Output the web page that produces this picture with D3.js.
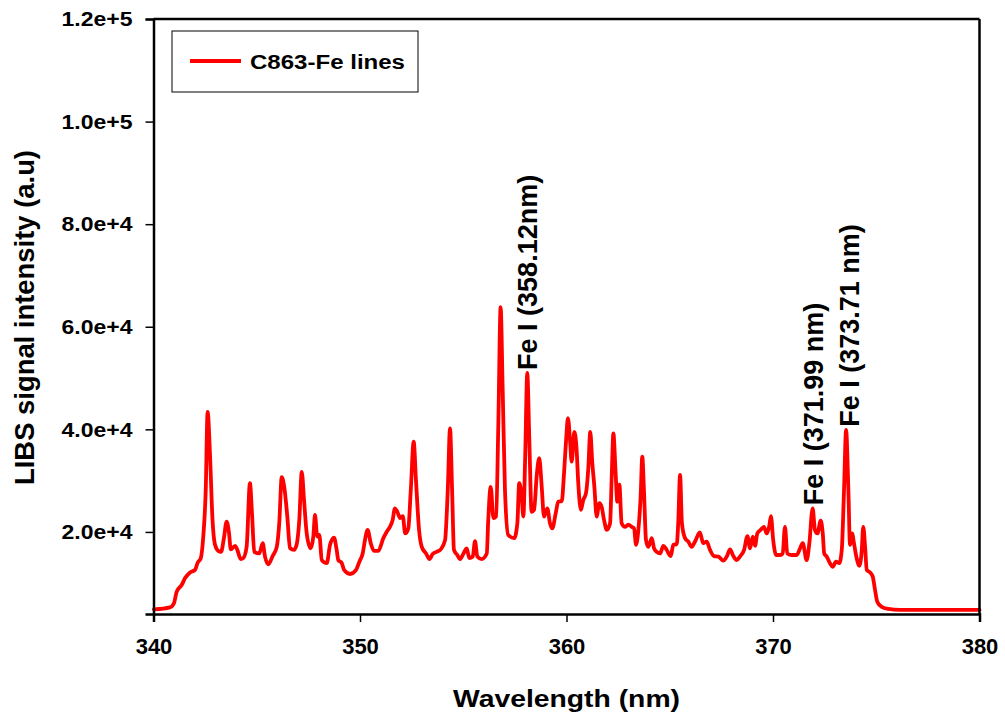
<!DOCTYPE html>
<html>
<head>
<meta charset="utf-8">
<script src="https://cdn.jsdelivr.net/npm/d3@7"></script>
<style>
  body { margin: 0; background: #fff; }
  text { font-family: Arial, "Liberation Sans", Helvetica, sans-serif; font-weight: bold; fill: #000; }
</style>
</head>
<body>
<div id="chart"></div>
<script>
// wavelength (nm)
const wavelength = [340.02,340.80,340.99,341.12,341.37,341.53,341.77,342.01,342.14,342.29,
  342.41,342.53,342.62,342.74,342.85,342.98,343.14,343.27,343.41,343.54,
  343.66,343.74,343.95,344.06,344.22,344.35,344.51,344.67,344.77,344.88,
  345.12,345.29,345.40,345.56,345.77,345.97,346.09,346.21,346.33,346.48,
  346.61,346.80,346.93,347.06,347.18,347.29,347.42,347.61,347.74,347.82,
  347.93,348.03,348.15,348.39,348.55,348.74,348.87,348.95,349.11,349.23,
  349.52,349.81,349.97,350.13,350.24,350.37,350.52,350.68,350.89,351.13,
  351.29,351.45,351.58,351.69,351.81,351.94,352.07,352.19,352.34,352.46,
  352.60,352.71,352.86,352.99,353.20,353.36,353.52,353.71,353.91,354.12,
  354.25,354.36,354.46,354.55,354.71,354.84,355.00,355.17,355.29,355.46,
  355.57,355.68,355.89,356.14,356.21,356.33,356.46,356.59,356.70,356.81,
  356.91,357.02,357.18,357.47,357.62,357.71,357.83,357.91,358.00,358.10,
  358.20,358.31,358.43,358.56,358.68,358.80,358.91,359.07,359.20,359.31,
  359.49,359.60,359.77,359.88,359.98,360.07,360.17,360.25,360.38,360.49,
  360.57,360.70,360.81,360.94,361.06,361.15,361.25,361.35,361.46,361.59,
  361.70,361.82,361.95,362.11,362.19,362.27,362.38,362.46,362.56,362.67,
  362.83,362.99,363.16,363.27,363.37,363.48,363.59,363.67,363.75,363.85,
  363.96,364.13,364.24,364.37,364.53,364.69,364.85,365.05,365.17,365.34,
  365.41,365.50,365.59,365.74,365.90,366.06,366.22,366.46,366.62,366.79,
  366.95,367.14,367.35,367.59,367.76,367.92,368.08,368.24,368.40,368.60,
  368.76,368.89,369.02,369.13,369.24,369.40,369.56,369.70,369.82,369.90,
  370.01,370.15,370.34,370.47,370.58,370.69,370.91,371.15,371.31,371.44,
  371.63,371.76,371.92,372.03,372.15,372.31,372.41,372.48,372.60,372.76,
  372.89,373.05,373.21,373.33,373.44,373.54,373.65,373.73,373.83,373.92,
  374.05,374.18,374.30,374.37,374.46,374.54,374.70,374.83,374.94,375.05,
  375.26,375.58,376.15,377.76,380.00];

// LIBS signal intensity (a.u)
const intensity = [4900,5300,6100,8300,9700,11000,12100,12600,14000,14900,
  19100,28200,43400,34700,23000,17500,16300,16100,18800,22000,
  19700,16600,17300,16500,14700,14900,17100,29500,23600,16100,
  15800,17800,15200,13700,15300,17100,21700,30700,28800,23000,
  16800,16500,17500,22300,31700,26200,19700,16800,19100,23300,
  19100,19400,14500,13900,17500,18900,16500,14500,14000,12600,
  11800,12600,14200,15800,18400,20400,17800,16300,16300,18800,
  20000,21000,22300,24600,23900,22700,23100,19700,20700,28200,
  37600,30100,20400,17100,15800,14700,15700,16100,16600,18400,
  28200,40200,28200,16500,15500,14700,15700,16800,14900,15200,
  18200,15200,14700,15800,22300,28800,22700,23000,41200,63800,
  47700,28200,19400,18800,21700,29500,26900,23000,34700,51000,
  37900,23900,24300,31100,34400,28800,23000,24600,21700,20700,
  23900,25900,26000,31400,37900,42200,37900,33700,39500,36000,
  29500,24300,26200,27500,32700,39500,33400,28800,23000,25600,
  24900,22300,20400,21700,30800,39200,31400,25900,29200,21700,
  21000,21400,21000,20700,17500,20400,26900,34700,28200,18400,
  17100,18800,16800,16100,15800,17300,16500,15300,17500,17600,
  21700,31100,21700,18800,18100,17100,18100,19900,17800,18100,
  16500,15300,15200,14400,15200,16600,15300,14500,15200,16500,
  19200,16800,19100,17300,19700,20400,21000,19700,21200,23100,
  18400,15500,15500,15800,21000,15800,15500,15500,16800,17800,
  14500,17800,24600,20400,19700,22200,19700,15800,15200,13900,
  13200,14200,13900,16500,28200,39900,28200,17500,19700,17800,
  14900,13400,16500,21000,17100,12600,12100,11300,8700,6400,
  5400,5000,4800,4800,4800];

const xTicks = [340, 350, 360, 370, 380];
const yTicks = [20000, 40000, 60000, 80000, 100000, 120000];
const yTickLabels = ['2.0e+4', '4.0e+4', '6.0e+4', '8.0e+4', '1.0e+5', '1.2e+5'];

// Fe I line labels
const lineLabels = ['Fe I (358.12nm)', 'Fe I (371.99 nm)', 'Fe I (373.71 nm)'];
const lineWavelengths = [358.12, 371.99, 373.71];
const linePeaks = [51000, 24600, 39900];

const seriesName = 'C863-Fe lines';

const totalWidth = 1005, totalHeight = 719;
const margin = { top: 19, right: 25.5, bottom: 105, left: 153.5 };
const width = totalWidth - margin.left - margin.right,
  height = totalHeight - margin.top - margin.bottom;

const svg = d3
  .select('#chart')
  .append('svg')
  .attr('width', totalWidth)
  .attr('height', totalHeight)
  .append('g')
  .attr('transform', `translate(${margin.left}, ${margin.top})`);

//scale x
const x = d3.scaleLinear().domain([340, 380]).range([0, width]);
//scale y
const y = d3.scaleLinear().domain([4000, 120000]).range([height, 0]);

// spectrum
const points = wavelength.map((w, i) => [w, intensity[i]]);
svg
  .append('path')
  .datum(points)
  .attr('fill', 'none')
  .attr('stroke', '#ff0000')
  .attr('stroke-width', 3.8)
  .attr('stroke-linejoin', 'round')
  .attr('stroke-linecap', 'round')
  .attr('d', d3.line().curve(d3.curveMonotoneX).x((d) => x(d[0])).y((d) => y(d[1])));

//add X-axis
const xAxis = svg
  .append('g')
  .attr('transform', `translate(0, ${height})`)
  .call(d3.axisBottom(x).tickValues(xTicks).tickSize(8).tickPadding(16).tickFormat(d3.format('d')));
xAxis.select('.domain').attr('stroke-width', 2.5);
xAxis.selectAll('.tick line').attr('stroke-width', 1.5);
xAxis.selectAll('text').style('font-size', '22px').attr('fill', '#000');

//add Y-axis
const yAxis = svg
  .append('g')
  .call(d3.axisLeft(y).tickValues(yTicks).tickSize(8).tickPadding(13).tickFormat((d, i) => yTickLabels[i]));
yAxis.select('.domain').attr('stroke-width', 2.5);
yAxis.selectAll('.tick line').attr('stroke-width', 1.5);
yAxis
  .selectAll('text')
  .style('font-size', '21px')
  .attr('fill', '#000')
  .attr('textLength', 71)
  .attr('lengthAdjust', 'spacingAndGlyphs');

// frame top + right
svg.append('line').attr('x1', 0).attr('x2', width).attr('y1', 0).attr('y2', 0)
  .attr('stroke', '#000').attr('stroke-width', 2.5);
svg.append('line').attr('x1', width).attr('x2', width).attr('y1', 0).attr('y2', height)
  .attr('stroke', '#000').attr('stroke-width', 2.5);

//add label under the x-axis
svg
  .append('text')
  .attr('x', width / 2)
  .attr('y', height + 93)
  .attr('text-anchor', 'middle')
  .style('font-size', '24px')
  .attr('textLength', 227)
  .attr('lengthAdjust', 'spacingAndGlyphs')
  .text('Wavelength (nm)');

// y label
svg
  .append('text')
  .attr('transform', 'rotate(-90)')
  .attr('x', -(317.5 - margin.top))
  .attr('y', 33.5 - margin.left)
  .attr('text-anchor', 'middle')
  .style('font-size', '27.5px')
  .attr('textLength', 335)
  .attr('lengthAdjust', 'spacingAndGlyphs')
  .text('LIBS signal intensity (a.u)');

// peak labels
svg
  .selectAll('.peakLabel')
  .data(lineLabels)
  .enter()
  .append('text')
  .attr('class', 'peakLabel')
  .attr('transform', (d, i) => `translate(${x(lineWavelengths[i]) + 9}, ${y(linePeaks[i]) - 3}) rotate(-90)`)
  .attr('text-anchor', 'start')
  .style('font-size', '27px')
  .text((d) => d);

// legend
const legend = svg.append('g').attr('transform', `translate(${172 - margin.left}, ${31 - margin.top})`);
legend.append('rect').attr('width', 246).attr('height', 61)
  .attr('fill', '#fff').attr('stroke', '#000').attr('stroke-width', 1);
legend.append('line').attr('x1', 18).attr('x2', 69).attr('y1', 30).attr('y2', 30)
  .attr('stroke', '#ff0000').attr('stroke-width', 3.8);
legend.append('text').attr('x', 78).attr('y', 38)
  .style('font-size', '20px')
  .attr('textLength', 155)
  .attr('lengthAdjust', 'spacingAndGlyphs')
  .text(seriesName);
</script>
</body>
</html>
